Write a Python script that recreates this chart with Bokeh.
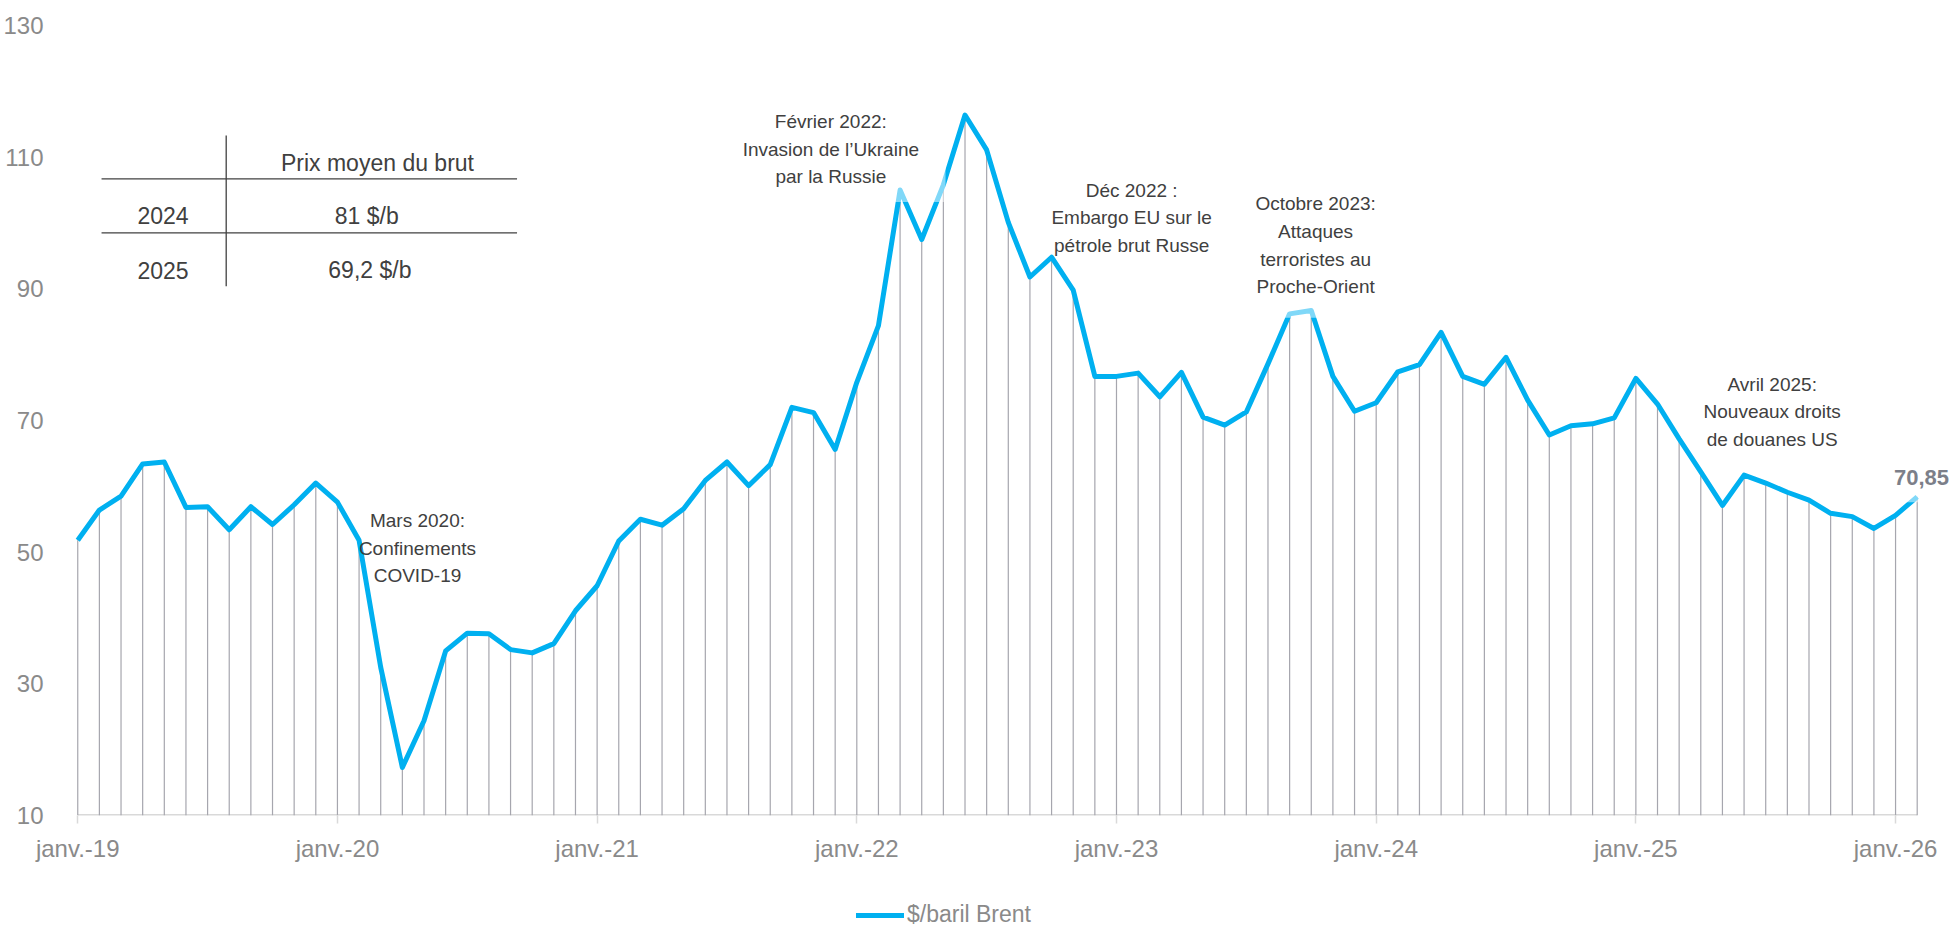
from bokeh.plotting import figure
from bokeh.layouts import column
from bokeh.models import Range1d, FixedTicker, Label, BoxAnnotation, Legend, LegendItem
from bokeh.embed import file_html
from bokeh.resources import INLINE

# ---------------- data ----------------
# Monthly Brent price (Jan 2019 -> Feb 2026)
brent_2019 = [51.8, 56.4, 58.5, 63.4, 63.7, 56.8, 56.9, 53.4, 56.9, 54.2, 57.2, 60.5]
brent_2020 = [57.6, 51.8, 32.5, 17.3, 24.4, 35.0, 37.7, 37.6, 35.2, 34.7, 36.1, 41.1]
brent_2021 = [44.9, 51.7, 55.0, 54.1, 56.6, 60.9, 63.7, 60.1, 63.3, 72.0, 71.2, 65.6]
brent_2022 = [75.8, 84.4, 105.0, 97.5, 105.8, 116.4, 111.1, 100.1, 91.8, 94.8, 89.8, 76.7]
brent_2023 = [76.7, 77.2, 73.6, 77.3, 70.5, 69.3, 71.3, 78.6, 86.2, 86.7, 76.7, 71.4]
brent_2024 = [72.7, 77.4, 78.5, 83.4, 76.7, 75.5, 79.6, 73.1, 67.8, 69.2, 69.5, 70.4]
brent_2025 = [76.4, 72.5, 67.2, 62.2, 57.1, 61.7, 60.5, 59.1, 57.9, 55.9, 55.4, 53.6]
brent_2026 = [55.6, 58.4]
brent = brent_2019 + brent_2020 + brent_2021 + brent_2022 + brent_2023 + brent_2024 + brent_2025 + brent_2026
months = list(range(len(brent)))

series_name = "$/baril Brent"
year_ticks = [0, 12, 24, 36, 48, 60, 72, 84]
tick_labels = ["janv.-19", "janv.-20", "janv.-21", "janv.-22", "janv.-23", "janv.-24", "janv.-25", "janv.-26"]
y_ticks = [10, 30, 50, 70, 90, 110, 130]
last_value_label = "70,85"

table_header = "Prix moyen du brut"
table_years = ["2024", "2025"]
table_prices = ["81  $/b", "69,2 $/b"]

# annotations: (x position in months, first line y, lines)
annotations = [
    (15.7, 54.8, ["Mars 2020:", "Confinements", "COVID-19"]),
    (34.8, 115.4, ["Février 2022:", "Invasion de l\u2019Ukraine", "par la Russie"]),
    (48.7, 105.0, ["Déc 2022 :", "Embargo EU sur le", "pétrole brut Russe"]),
    (57.2, 102.9, ["Octobre 2023:", "Attaques", "terroristes au", "Proche-Orient"]),
    (78.3, 75.5, ["Avril 2025:", "Nouveaux droits", "de douanes US"]),
]
LINE_STEP = 4.2

# ---------------- style ----------------
FONT = "Liberation Sans"
BLUE = "#00B0F0"
AXIS_TXT = "#8a8a8a"
DARK_TXT = "#404040"
DROP = "#a6a6ae"

n = len(brent)
p = figure(width=1955, height=870, output_backend="svg", toolbar_location=None,
           x_range=Range1d(-0.15, 86.77), y_range=Range1d(10, 130),
           min_border_left=74, min_border_right=0, min_border_top=25, min_border_bottom=55)
p.outline_line_color = None
p.xgrid.grid_line_color = None
p.ygrid.grid_line_color = None
p.background_fill_color = "white"
p.border_fill_color = "white"

# axes
p.xaxis.ticker = FixedTicker(ticks=year_ticks)
p.xaxis.major_label_overrides = {t: l for t, l in zip(year_ticks, tick_labels)}
p.xaxis.axis_line_color = None
p.xaxis.major_tick_line_color = "#d9d9d9"
p.xaxis.major_tick_line_width = 1.5
p.xaxis.major_tick_out = 8
p.xaxis.major_tick_in = 0
p.xaxis.minor_tick_line_color = None
p.xaxis.major_label_text_font = FONT
p.xaxis.major_label_text_font_size = "24px"
p.xaxis.major_label_text_color = AXIS_TXT
p.xaxis.major_label_standoff = 11

p.yaxis.ticker = FixedTicker(ticks=y_ticks)
p.yaxis.axis_line_color = None
p.yaxis.major_tick_line_color = None
p.yaxis.minor_tick_line_color = None
p.yaxis.major_label_text_font = FONT
p.yaxis.major_label_text_font_size = "24px"
p.yaxis.major_label_text_color = AXIS_TXT
p.yaxis.major_label_standoff = 25

# baseline (category axis line spanning first to last month)
p.segment(x0=[months[0]], y0=[10], x1=[months[-1]], y1=[10], line_color="#d9d9d9", line_width=3)
# drop lines
p.segment(x0=months, y0=[10] * n, x1=months, y1=brent, line_color=DROP, line_width=1.2)
# main line
r = p.line(months, brent, line_color=BLUE, line_width=5, line_join="round")

# table
p.segment(x0=[6.86], y0=[113.3], x1=[6.86], y1=[90.4], line_color=DARK_TXT, line_width=1.3)
p.segment(x0=[1.1, 1.1], y0=[106.7, 98.5], x1=[20.3, 20.3], y1=[106.7, 98.5], line_color=DARK_TXT, line_width=1.3)
p.add_layout(Label(x=13.85, y=109.1, text=table_header, text_font=FONT, text_font_size="23px",
                   text_color=DARK_TXT, text_align="center", text_baseline="middle"))
for yy, yr, pr in zip([101.1, 92.8], table_years, table_prices):
    p.add_layout(Label(x=3.94, y=yy, text=yr, text_font=FONT, text_font_size="23px",
                       text_color=DARK_TXT, text_align="center", text_baseline="middle"))
    p.add_layout(Label(x=13.5, y=yy, text=pr, text_font=FONT, text_font_size="23px",
                       text_color=DARK_TXT, text_align="center", text_baseline="middle"))

# semi-transparent text boxes lightening the line
for l, rgt, b, t in [(29.5, 40.1, 103.2, 119.4), (53.7, 60.7, 85.6, 105.0), (84.5, 87.0, 57.6, 64.5)]:
    p.add_layout(BoxAnnotation(left=l, right=rgt, bottom=b, top=t, fill_color="white",
                               fill_alpha=0.5, line_color=None))

# annotations
for ax, ay, lines in annotations:
    for i, txt in enumerate(lines):
        p.add_layout(Label(x=ax, y=ay - i * LINE_STEP, text=txt, text_font=FONT, text_font_size="19px",
                           text_color=DARK_TXT, text_align="center", text_baseline="middle"))

p.add_layout(Label(x=85.2, y=61.4, text=last_value_label, text_font=FONT, text_font_size="22px",
                   text_font_style="bold", text_color="#7c7f89", text_align="center", text_baseline="middle"))

# legend strip below the chart
pl = figure(width=1955, height=58, output_backend="svg", toolbar_location=None,
            x_range=Range1d(0, 1), y_range=Range1d(0, 1),
            x_axis_location=None, y_axis_location=None,
            min_border_left=0, min_border_right=0, min_border_top=0, min_border_bottom=0)
pl.grid.visible = False
pl.outline_line_color = None
pl.border_fill_color = "white"
rl = pl.line(x=[-5, -4], y=[-5, -5], line_color=BLUE, line_width=5, line_cap="round")
legend = Legend(items=[LegendItem(label=series_name, renderers=[rl])], location=(782, 0),
                orientation="horizontal", padding=0, margin=0, spacing=0,
                glyph_width=48, glyph_height=20, label_standoff=3,
                label_text_font=FONT, label_text_font_size="23px", label_text_color=AXIS_TXT,
                border_line_color=None, background_fill_alpha=0)
pl.add_layout(legend, "center")

open("out.html", "w").write(file_html(column(p, pl, spacing=0), INLINE))
